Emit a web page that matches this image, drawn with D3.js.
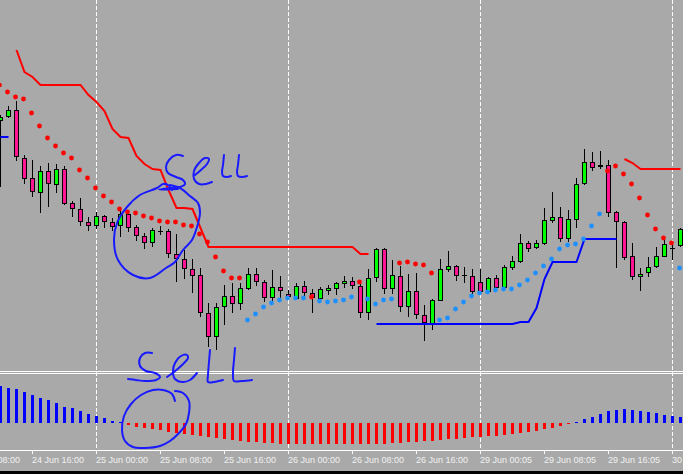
<!DOCTYPE html>
<html><head><meta charset="utf-8">
<script src="https://cdn.jsdelivr.net/npm/d3@7"></script>
<style>html,body{margin:0;padding:0;background:#a9a9a9;overflow:hidden}svg{display:block}</style>
</head><body><svg id="c" width="683" height="474"></svg>
<script>
// ---- data (hourly bars, EURUSD-like) ----
const tickLabels = ["24 Jun 08:00","24 Jun 16:00","25 Jun 00:00","25 Jun 08:00","25 Jun 16:00","26 Jun 00:00","26 Jun 08:00","26 Jun 16:00","29 Jun 00:05","29 Jun 08:05","29 Jun 16:05","30 Jun 00:05"];
const open = [1.1379,1.1383,1.1390,1.1342,1.1322,1.1307,1.1329,1.1315,1.1331,1.1297,
 1.1291,1.1278,1.1274,1.1284,1.1278,1.1274,1.1286,1.1273,1.1264,1.1257,
 1.1269,1.1269,1.1246,1.1241,1.1231,1.1225,1.1187,1.1163,1.1193,1.1204,
 1.1196,1.1211,1.1226,1.1218,1.1202,1.1213,1.1206,1.1201,1.1214,1.1207,
 1.1201,1.1209,1.1211,1.1216,1.1219,1.1214,1.1187,1.1222,1.1251,1.1211,
 1.1224,1.1193,1.1209,1.1185,1.1176,1.1199,1.1230,1.1234,1.1225,1.1224,
 1.1218,1.1208,1.1222,1.1212,1.1232,1.1238,1.1257,1.1252,1.1256,1.1279,
 1.1283,1.1261,1.1280,1.1316,1.1338,1.1333,1.1335,1.1288,1.1278,1.1244,
 1.1223,1.1227,1.1233,1.1243,1.1252,1.1254];
const high = [1.1385,1.1394,1.1399,1.1345,1.1340,1.1334,1.1337,1.1336,1.1334,1.1299,
 1.1302,1.1283,1.1288,1.1285,1.1282,1.1292,1.1290,1.1275,1.1267,1.1272,
 1.1274,1.1271,1.1266,1.1250,1.1241,1.1232,1.1197,1.1197,1.1215,1.1217,
 1.1217,1.1232,1.1232,1.1220,1.1230,1.1224,1.1210,1.1217,1.1219,1.1211,
 1.1213,1.1215,1.1218,1.1224,1.1223,1.1218,1.1231,1.1252,1.1252,1.1240,
 1.1234,1.1226,1.1227,1.1195,1.1201,1.1241,1.1249,1.1235,1.1233,1.1231,
 1.1231,1.1223,1.1225,1.1235,1.1244,1.1266,1.1259,1.1260,1.1292,1.1308,
 1.1293,1.1290,1.1322,1.1351,1.1348,1.1349,1.1340,1.1289,1.1279,1.1257,
 1.1232,1.1243,1.1253,1.1260,1.1258,1.1272];
const low = [1.1313,1.1382,1.1339,1.1316,1.1303,1.1287,1.1293,1.1307,1.1295,1.1283,
 1.1274,1.1269,1.1271,1.1272,1.1269,1.1263,1.1268,1.1259,1.1251,1.1253,
 1.1265,1.1242,1.1218,1.1221,1.1207,1.1183,1.1153,1.1150,1.1175,1.1187,
 1.1190,1.1210,1.1214,1.1198,1.1198,1.1200,1.1200,1.1200,1.1203,1.1187,
 1.1200,1.1205,1.1205,1.1212,1.1211,1.1182,1.1180,1.1218,1.1206,1.1206,
 1.1188,1.1183,1.1181,1.1159,1.1170,1.1199,1.1228,1.1219,1.1217,1.1206,
 1.1206,1.1208,1.1210,1.1211,1.1230,1.1237,1.1248,1.1251,1.1255,1.1277,
 1.1258,1.1258,1.1272,1.1315,1.1329,1.1331,1.1283,1.1232,1.1240,1.1220,
 1.1209,1.1223,1.1232,1.1243,1.1240,1.1253];
const close = [1.1383,1.1390,1.1343,1.1321,1.1308,1.1329,1.1316,1.1331,1.1296,1.1291,
 1.1278,1.1274,1.1284,1.1278,1.1273,1.1286,1.1272,1.1264,1.1257,1.1270,
 1.1269,1.1246,1.1241,1.1231,1.1224,1.1187,1.1163,1.1193,1.1204,1.1196,
 1.1212,1.1226,1.1218,1.1202,1.1213,1.1209,1.1203,1.1214,1.1207,1.1202,
 1.1211,1.1212,1.1217,1.1219,1.1214,1.1187,1.1222,1.1251,1.1211,1.1225,
 1.1193,1.1209,1.1185,1.1177,1.1200,1.1231,1.1234,1.1224,1.1225,1.1208,
 1.1208,1.1222,1.1212,1.1233,1.1239,1.1257,1.1251,1.1257,1.1280,1.1283,
 1.1261,1.1281,1.1316,1.1338,1.1332,1.1335,1.1287,1.1278,1.1242,1.1223,
 1.1226,1.1233,1.1244,1.1256,1.1252,1.1271];
// Parabolic SAR
const sar = [1.1415,1.1408,1.1403,1.1401,1.1387,1.1374,1.1362,1.1354,1.1347,1.1342,
 1.1330,1.1322,1.1312,1.1304,1.1298,1.1291,1.1288,1.1287,1.1284,1.1282,
 1.1279,1.1278,1.1278,1.1275,1.1274,1.1266,1.1258,1.1243,1.1229,1.1222,
 1.1222,1.1180,1.1186,1.1193,1.1197,1.1200,1.1202,1.1202,1.1202,1.1203,
 1.1199,1.1198,1.1199,1.1200,1.1203,1.1218,1.1201,1.1196,1.1200,1.1201,
 1.1237,1.1238,1.1236,1.1235,1.1227,1.1180,1.1182,1.1191,1.1198,1.1204,
 1.1207,1.1208,1.1210,1.1211,1.1211,1.1215,1.1220,1.1227,1.1234,1.1241,
 1.1251,1.1255,1.1256,1.1261,1.1274,1.1286,1.1329,1.1334,1.1326,1.1316,
 1.1302,1.1285,1.1271,1.1262,1.1257,1.1232];
const N = null;
// trailing stop lines
const stopUpper = [N,N,1.1450,1.1428,1.1423,1.1415,1.1415,1.1415,1.1415,1.1415,
 1.1415,1.1405,1.1398,1.1389,1.1371,1.1363,1.1362,1.1344,1.1336,1.1331,
 1.1330,1.1310,1.1292,1.1292,1.1291,1.1272,1.1253,1.1253,1.1253,1.1253,
 1.1253,1.1253,1.1253,1.1253,1.1253,1.1253,1.1253,1.1253,1.1253,1.1253,
 1.1253,1.1253,1.1253,1.1253,1.1253,1.1246,1.1246,N,N,N,
 N,N,N,N,N,N,N,N,N,N,
 N,N,N,N,N,N,N,N,N,N,
 N,N,N,N,N,N,N,N,1.1341,1.1337,
 1.1331,1.1331,1.1331,1.1331,1.1331,1.1331];
const stopLower = [1.1363,1.1363,N,N,N,N,N,N,N,N,
 N,N,N,N,N,N,N,N,N,N,
 N,N,N,N,N,N,N,N,N,N,
 N,N,N,N,N,N,N,N,N,N,
 N,N,N,N,N,N,N,1.1176,1.1176,1.1176,
 1.1176,1.1176,1.1176,1.1176,1.1176,1.1176,1.1176,1.1176,1.1176,1.1176,
 1.1176,1.1176,1.1176,1.1176,1.1176,1.1178,1.1178,1.1192,1.1221,1.1238,
 1.1238,1.1238,1.1238,1.1261,1.1261,1.1261,1.1261,1.1261,N,N,
 N,N,N,N,N,N];
// oscillator histogram (points)
const hist = [37,35,34,31,28,25,23,20,16,15,12,9,7,5,2.3,0.8,
 -1.5,-3.7,-4.7,-6,-7,-8.7,-10.3,-11,-12,-13,-14.3,-15.3,-16.3,-17,-18,
 -18.5,-19,-19.5,-20,-20.5,-20.5,-21,-21,-21,-21,-21,-21,-21,-21,-21,-21,-21,-20.5,-20,-19.5,-19,-18.5,-18,-17.5,-17,-16,-15.5,
 -14.5,-14,-13.5,-13,-13,-12,-11,-10,-9,-8,-6.3,-4.7,-2.7,-1.3,
 1,4,6,9,12,13,14,13,12,11,10,8,7,6];

// hand-drawn annotation strokes (screen pixels)
const annotations = [
 [[183,156],[176,155],[169,160],[166,167],[168,173],[176,177],[183,180],[185,184],[180,187],[170,188],[159,189.5],[168,189.5],[178,189]],
 [[195,175],[201,170],[207,164],[209,159],[205,158],[199,163],[194,171],[194,179],[199,184],[206,184],[212,182]],
 [[224,155],[223,165],[222,172],[223,176],[227,177],[231,176]],
 [[239,155],[238,165],[237,172],[238,176],[242,177],[247,176]],
 [[172,190],[168,185],[163,184],[157,188],[140,195],[127,207],[117,223],[114,240],[118,260],[133,275],[150,278],[166,268],[175,262],[183,250],[192,240],[197,227],[200,213],[198,203],[190,196],[180,188],[170,185]],
 [[152,353],[145,353],[140,358],[140,366],[146,371],[155,373],[160,377],[156,380],[145,381],[136,380],[128,379]],
 [[167,377],[174,372],[182,365],[188,358],[187,355],[181,356],[175,363],[173,371],[175,379],[183,382],[190,380],[197,373]],
 [[210,350],[209,362],[208,375],[208,382],[214,382],[223,380]],
 [[235,348],[234,360],[233,372],[234,381],[242,381],[252,380]],
 [[175,401],[172,394],[163,390],[153,390],[141,395],[131,404],[124,416],[122,430],[125,441],[133,447],[145,448],[160,446],[170,441],[178,434],[186,424],[189,413],[189,401],[183,393],[175,391]]
];

// ---- drawing ----
const W = 683, H = 474;
const svg = d3.select("#c");
svg.append("rect").attr("width", W).attr("height", H).attr("fill", "#a9a9a9");
const idx = d3.range(open.length);
const x = d3.scaleLinear().domain([0, 85]).range([0.5, 680.5]);
const y = d3.scaleLinear().domain([1.1129, 1.1500]).range([371, 0]);
const yo = d3.scaleLinear().domain([-27, 49]).range([450, 374]);
const tickIdx = tickLabels.map((_, i) => -4 + 8 * i);
const dayIdx = tickIdx.filter((k, i) => / 00:0/.test(tickLabels[i]));

// grid
svg.append("g").selectAll("line").data(dayIdx).join("line")
  .attr("x1", d => x(d)).attr("x2", d => x(d)).attr("y1", 0).attr("y2", 450)
  .attr("stroke", "#ffffff").attr("stroke-width", 1).attr("stroke-dasharray", "4,2");

// window separator
svg.append("g").selectAll("line").data([371.5, 373.5]).join("line")
  .attr("x1", 0).attr("x2", W).attr("y1", d => d).attr("y2", d => d)
  .attr("stroke", "#ffffff").attr("stroke-width", 1);

// histogram
svg.append("g").attr("shape-rendering", "crispEdges").selectAll("rect").data(idx).join("rect")
  .attr("x", i => x(i) - 1.5).attr("width", 3)
  .attr("y", i => Math.min(yo(hist[i]), yo(0)))
  .attr("height", i => Math.max(1, Math.abs(yo(hist[i]) - yo(0))))
  .attr("fill", i => hist[i] >= 0 ? "#0000ff" : "#ff0000");

// candles
const cg = svg.append("g");
cg.selectAll("line.wick").data(idx).join("line").attr("class", "wick")
  .attr("x1", i => x(i)).attr("x2", i => x(i))
  .attr("y1", i => y(high[i])).attr("y2", i => y(low[i]))
  .attr("stroke", "#000").attr("stroke-width", 1);
const bodies = idx.filter(i => Math.abs(open[i] - close[i]) > 0.00005);
const dojis = idx.filter(i => Math.abs(open[i] - close[i]) <= 0.00005);
cg.selectAll("rect.body").data(bodies).join("rect").attr("class", "body")
  .attr("x", i => x(i) - 2).attr("width", 4)
  .attr("y", i => y(Math.max(open[i], close[i])) + 0.5)
  .attr("height", i => Math.max(0.5, Math.abs(y(open[i]) - y(close[i])) - 1))
  .attr("fill", i => close[i] > open[i] ? "#00ff00" : "#ff1493")
  .attr("stroke", "#000").attr("stroke-width", 1);
cg.selectAll("line.doji").data(dojis).join("line").attr("class", "doji")
  .attr("x1", i => x(i) - 2.5).attr("x2", i => x(i) + 2.5)
  .attr("y1", i => y(open[i]) + 0.5).attr("y2", i => y(open[i]) + 0.5)
  .attr("stroke", "#000").attr("stroke-width", 1);

// trailing stop lines
const lineGen = d3.line().defined(d => d[1] != null).x(d => x(d[0])).y(d => y(d[1]));
svg.append("path").datum(idx.map(i => [i, stopUpper[i]])).attr("d", lineGen)
  .attr("fill", "none").attr("stroke", "#ff0000").attr("stroke-width", 2);
svg.append("path").datum(idx.map(i => [i, stopLower[i]])).attr("d", lineGen)
  .attr("fill", "none").attr("stroke", "#0000ff").attr("stroke-width", 2);

// SAR dots
svg.append("g").selectAll("circle").data(idx).join("circle")
  .attr("cx", i => x(i) - 1).attr("cy", i => y(sar[i])).attr("r", 2.4)
  .attr("fill", i => sar[i] > close[i] ? "#ff0000" : "#1e90ff");

// axis
svg.append("line").attr("x1", 0).attr("x2", W).attr("y1", 450.5).attr("y2", 450.5)
  .attr("stroke", "#ffffff").attr("stroke-width", 1);
const axis = d3.axisBottom(x).tickValues(tickIdx).tickFormat((d, i) => tickLabels[i]).tickSize(3).offset(0);
const ag = svg.append("g").attr("transform", "translate(0,451)").call(axis);
ag.select(".domain").remove();
ag.selectAll(".tick line").attr("stroke", "#ffffff");
ag.selectAll(".tick text").attr("fill", "#f2f2f2").attr("text-anchor", "start")
  .attr("x", -0.5).attr("font-family", "'Liberation Sans', Arial, sans-serif").attr("font-size", 9);

svg.append("rect").attr("x", 0).attr("y", 471).attr("width", W).attr("height", 3).attr("fill", "#000");

// annotations
const pen = d3.line().curve(d3.curveCatmullRom.alpha(0.5));
svg.append("g").selectAll("path").data(annotations).join("path")
  .attr("d", pen).attr("fill", "none").attr("stroke", "#1a1aff")
  .attr("stroke-width", 2).attr("stroke-linecap", "round").attr("stroke-linejoin", "round");
</script>
</body></html>
